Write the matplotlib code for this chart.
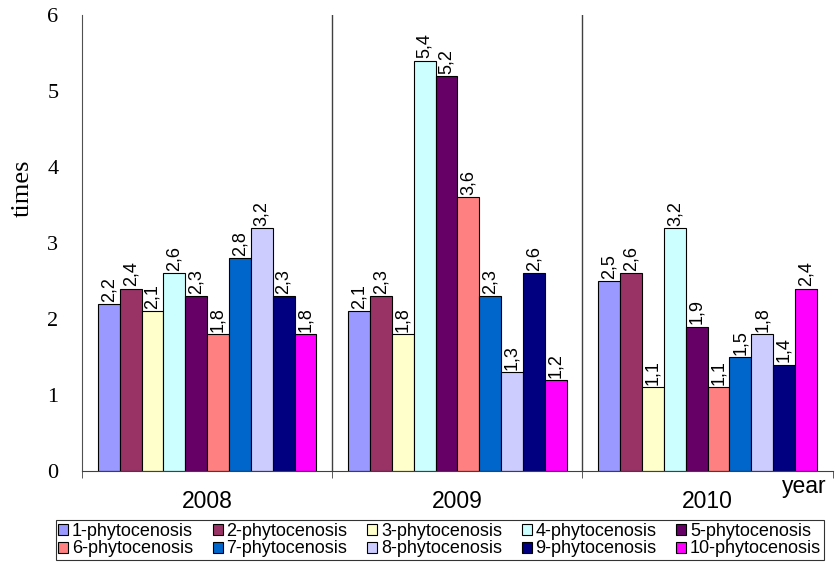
import matplotlib.pyplot as plt
import numpy as np

years = ["2008", "2009", "2010"]
series_names = [f"{i}-phytocenosis" for i in range(1, 11)]
colors = ["#9999FF", "#993366", "#FFFFCC", "#CCFFFF", "#660066",
          "#FF8080", "#0066CC", "#CCCCFF", "#000080", "#FF00FF"]

# rows: phytocenosis 1..10, columns: 2008, 2009, 2010
values = [
    [2.2, 2.1, 2.5],
    [2.4, 2.3, 2.6],
    [2.1, 1.8, 1.1],
    [2.6, 5.4, 3.2],
    [2.3, 5.2, 1.9],
    [1.8, 3.6, 1.1],
    [2.8, 2.3, 1.5],
    [3.2, 1.3, 1.8],
    [2.3, 2.6, 1.4],
    [1.8, 1.2, 2.4],
]

fig = plt.figure(figsize=(8.36, 5.62), dpi=100)
ax = fig.add_axes([0.0981, 0.1619, 0.898, 0.8114])

x = np.arange(len(years))
n = len(series_names)
group_w = 0.873
bw = group_w / n

handles = []
for i, (name, col, vals) in enumerate(zip(series_names, colors, values)):
    pos = x - group_w / 2 + bw * (i + 0.5)
    bars = ax.bar(pos, vals, bw, color=col, edgecolor="black", linewidth=0.8, label=name)
    handles.append(bars)
    for b, v in zip(bars, vals):
        ax.text(b.get_x() + b.get_width() / 2, v + 0.03, f"{v:.1f}".replace(".", ","),
                rotation=90, ha="center", va="bottom", fontsize=13,
                family="Liberation Sans")

ax.set_xlim(-0.5, 2.5)
ax.set_ylim(0, 6)

for s in ["top", "right"]:
    ax.spines[s].set_visible(False)
ax.spines["left"].set_color("#505050")
ax.spines["bottom"].set_color("#404040")
for xs in [0.5, 1.5]:
    ax.axvline(xs, color="#404040", lw=1)

ax.set_yticks(range(0, 7))
ax.tick_params(axis="y", length=0, pad=17, labelsize=16)
for t in ax.get_yticklabels():
    t.set_family("Liberation Serif")

ax.set_xticks(x)
ax.set_xticklabels(years, fontsize=16.5, family="Liberation Sans")
ax.tick_params(axis="x", which="major", length=0, pad=14)
ax.set_xticks([-0.5, 0.5, 1.5, 2.5], minor=True)
ax.tick_params(axis="x", which="minor", length=5, direction="out", color="#404040")

ax.set_ylabel("times", fontsize=19, family="Liberation Serif")
ax.yaxis.set_label_coords(-0.064, 0.62)
fig.text(0.962, 0.134, "year", fontsize=16.5, family="Liberation Sans", ha="center", va="center")

# legend reads row by row: 1..5 on top, 6..10 below
order = [0, 5, 1, 6, 2, 7, 3, 8, 4, 9]
leg = fig.legend([handles[k] for k in order], [series_names[k] for k in order],
                 loc="lower center", bbox_to_anchor=(0.526, 0.0), ncol=5,
                 prop={"family": "Liberation Sans", "size": 13},
                 frameon=True, fancybox=False, edgecolor="black",
                 handlelength=0.55, handleheight=0.55, handletextpad=0.2,
                 columnspacing=1.1, labelspacing=0.05, borderpad=0.15, borderaxespad=0.1)
leg.get_frame().set_linewidth(0.8)

fig.savefig("out.png", dpi=100)
